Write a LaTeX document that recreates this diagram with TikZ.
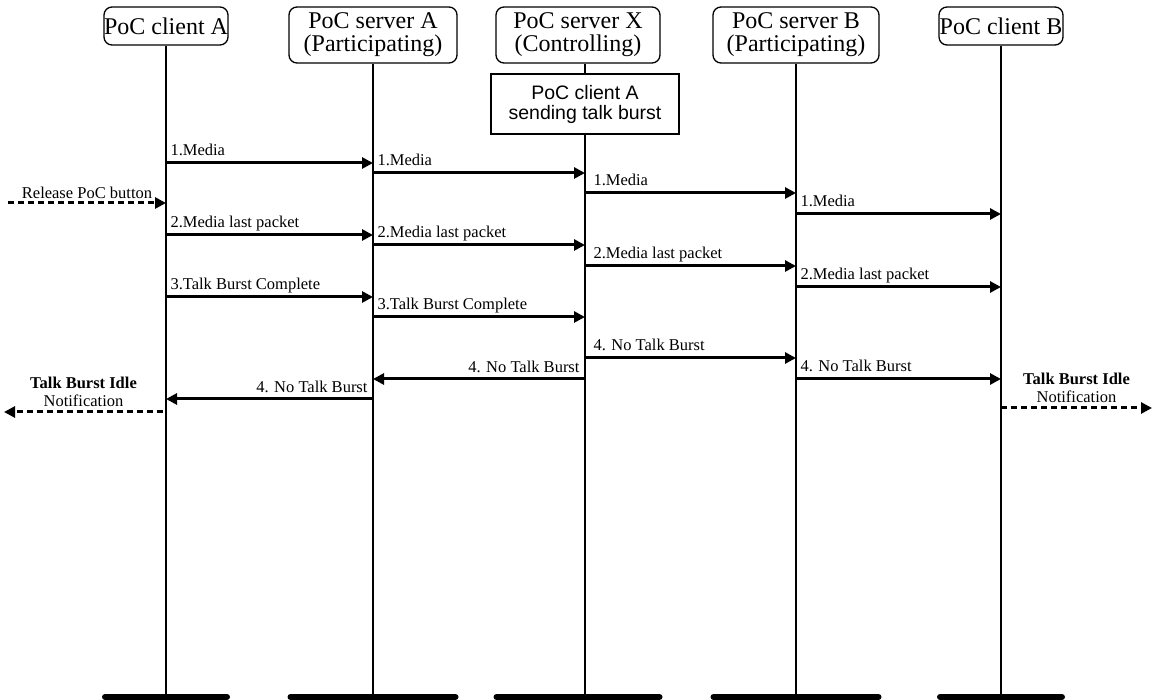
\documentclass[tikz,border=0pt]{standalone}
\usepackage{fontspec}
\setmainfont{Liberation Serif}
\setsansfont{Liberation Sans}
\usetikzlibrary{positioning,arrows.meta}
\tikzset{
    entity/.style={draw,rounded corners=8pt,line width=1.3pt,align=center,inner sep=0pt,font=\fontsize{24}{23}\selectfont},
    statebox/.style={draw,line width=1.3pt,align=center,inner sep=0pt,minimum width=188pt,minimum height=60pt,font=\sffamily\fontsize{19.5}{20}\selectfont},
    footbar/.style={fill=black,rounded corners=3pt,minimum height=6pt,inner sep=0pt},
    life/.style={line width=1.5pt},
    msg/.style={line width=3pt,-{Triangle[length=11pt,width=11pt]}},
    ext/.style={msg,dash pattern=on 6pt off 4pt},
    lblr/.style={font=\fontsize{16.5}{16.5}\selectfont,inner sep=0pt,anchor=base west,xshift=3pt,yshift=7pt},
    lbll/.style={font=\fontsize{16.5}{16.5}\selectfont,inner sep=0pt,anchor=base east,xshift=-4pt,yshift=6pt},
    extlbl/.style={font=\fontsize{16.5}{18}\selectfont,inner sep=0pt,align=center},
}
\begin{document}
\begin{tikzpicture}[x=1pt,y=-1pt]
    \useasboundingbox (0,0) rectangle (1154,700);

    % entities
    \node[entity,minimum width=124pt,minimum height=38pt] (hA) at (166,26) {PoC client A};
    \node[entity,minimum width=168pt,minimum height=56pt] (hSA) at (373,35) {PoC server A\\(Participating)};
    \node[entity,minimum width=164pt,minimum height=56pt] (hX) at (578,35) {PoC server X\\(Controlling)};
    \node[entity,minimum width=166pt,minimum height=56pt] (hB) at (796,35) {PoC server B\\(Participating)};
    \node[entity,minimum width=124pt,minimum height=38pt] (hcB) at (1001,26) {PoC client B};
    \node[statebox] (sX) at (585,104) {PoC client A\\sending talk burst};

    % foot bars
    \node[footbar,minimum width=128pt] (fA) at (hA |- 0,697) {};
    \node[footbar,minimum width=171pt] (fSA) at (hSA |- 0,697) {};
    \node[footbar,minimum width=169pt] (fX) at (hX |- 0,697) {};
    \node[footbar,minimum width=171pt] (fB) at (hB |- 0,697) {};
    \node[footbar,minimum width=128pt] (fcB) at (hcB |- 0,697) {};

    % lifelines
    \draw[life] (hA) -- (fA);
    \draw[life] (hSA) -- (fSA);
    \draw[life] (hX.south -| sX) -- (sX);
    \draw[life] (sX) -- (sX |- fX);
    \draw[life] (hB) -- (fB);
    \draw[life] (hcB) -- (fcB);

    % outside events
    \coordinate (rel) at (8,203);
    \coordinate (idleA) at (4,412);
    \coordinate (idleB) at (1152,408);

    % 1. media
    \draw[msg] (hA |- 0,163) -- node[lblr,at start] {1.Media} (hSA |- 0,163);
    \draw[msg] (hSA |- 0,173) -- node[lblr,at start] {1.Media} (sX |- 0,173);
    \draw[msg] (sX |- 0,193) -- node[lblr,at start,xshift=4pt] {1.Media} (hB |- 0,193);
    \draw[msg] (hB |- 0,214) -- node[lblr,at start] {1.Media} (hcB |- 0,214);
    \draw[ext] (rel) -- node[extlbl,midway,anchor=base,yshift=4pt] {Release PoC button} (hA |- rel);

    % 2. media last packet
    \draw[msg] (hA |- 0,235) -- node[lblr,at start] {2.Media last packet} (hSA |- 0,235);
    \draw[msg] (hSA |- 0,245) -- node[lblr,at start] {2.Media last packet} (sX |- 0,245);
    \draw[msg] (sX |- 0,266) -- node[lblr,at start,xshift=4pt] {2.Media last packet} (hB |- 0,266);
    \draw[msg] (hB |- 0,287) -- node[lblr,at start] {2.Media last packet} (hcB |- 0,287);

    % 3. talk burst complete
    \draw[msg] (hA |- 0,297) -- node[lblr,at start] {3.Talk Burst Complete} (hSA |- 0,297);
    \draw[msg] (hSA |- 0,317) -- node[lblr,at start] {3.Talk Burst Complete} (sX |- 0,317);

    % 4. no talk burst
    \draw[msg] (sX |- 0,358) -- node[lblr,at start,xshift=4pt] {4. No Talk Burst} (hB |- 0,358);
    \draw[msg] (hB |- 0,379) -- node[lblr,at start] {4. No Talk Burst} (hcB |- 0,379);
    \draw[msg] (sX |- 0,379) -- node[lbll,at start] {4. No Talk Burst} (hSA |- 0,379);
    \draw[msg] (hSA |- 0,399) -- node[lbll,at start] {4. No Talk Burst} (hA |- 0,399);

    % talk burst idle
    \draw[ext] ([xshift=-3pt]hA |- idleA) -- node[extlbl,midway,anchor=south,yshift=4pt]
        {{\bfseries\fontsize{16.5}{18}\selectfont Talk Burst Idle}\\Notification} (idleA);
    \draw[ext] (hcB |- idleB) -- node[extlbl,midway,anchor=south,yshift=4pt]
        {{\bfseries\fontsize{16.5}{18}\selectfont Talk Burst Idle}\\Notification} (idleB);
\end{tikzpicture}
\end{document}
